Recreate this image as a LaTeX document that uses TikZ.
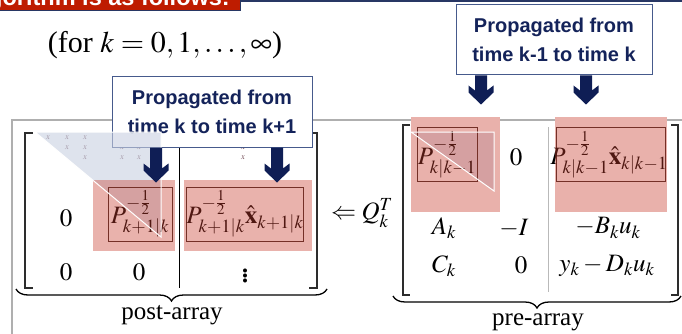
\documentclass[tikz,border=0pt]{standalone}
\usepackage{mathptmx}
\usepackage{fontspec}
\setmainfont{Liberation Serif}
\newfontfamily\headsans{Liberation Sans}
\usetikzlibrary{calc,decorations.pathreplacing}

\definecolor{bannerred}{RGB}{190,28,0}
\definecolor{bannerline}{RGB}{40,55,100}
\definecolor{framegray}{RGB}{175,175,175}
\definecolor{calloutline}{RGB}{70,90,140}
\definecolor{calloutink}{RGB}{20,35,90}
\definecolor{arrowink}{RGB}{15,30,85}
\definecolor{hlred}{RGB}{200,62,47}
\definecolor{triblue}{RGB}{200,208,225}
\definecolor{innerline}{RGB}{60,40,35}
\definecolor{xmark}{RGB}{110,70,80}
\definecolor{bracketink}{RGB}{45,45,45}
\definecolor{sepgray}{RGB}{185,185,185}

\tikzset{
  mtx/.style={font=\fontsize{25}{30}\selectfont, inner sep=0pt},
  callout/.style={draw=calloutline, line width=1pt, fill=white, minimum height=70pt,
    inner sep=0pt, align=center, text=calloutink,
    font=\headsans\bfseries\fontsize{20}{29}\selectfont},
  bracket/.style={draw=bracketink, line width=1.6pt},
  highlight/.style={fill=hlred, fill opacity=0.4},
  innerbox/.style={draw=innerline, line width=0.8pt},
  tinyx/.style={font=\fontsize{8.5}{9}\selectfont, text=xmark, inner sep=0pt},
  triline/.style={draw=white, line width=1pt},
  underbrace/.style={decorate, decoration={brace, mirror, amplitude=12pt},
    draw=black, line width=1.3pt},
}

% thick downward block arrow: #1 = top point, #2 = length
\newcommand\blockarrow[2]{%
  \fill[arrowink, shift={(#1)}] (-6,0) -- (6,0) -- (6,#2-14) -- (12.5,#2-19)
    -- (12.5,#2-12) -- (0,#2) -- (-12.5,#2-12) -- (-12.5,#2-19) -- (-6,#2-14) -- cycle;}

\begin{document}
\begin{tikzpicture}[x=1pt,y=-1pt]
\useasboundingbox (0,0) rectangle (682,334);

% slide title bar
\fill[bannerred, draw=bannerline, line width=1pt] (-2,-2) rectangle (240,11);
\node[anchor=base east, text=white, inner sep=0pt,
      font=\headsans\bfseries\fontsize{23.5}{25}\selectfont] (title) at (230,5.5)
      {Algorithm is as follows:};
\draw[bannerline, line width=2.4pt] (240,1) -- (682,1);

% iteration range
\node[font=\fontsize{30}{36}\selectfont, inner sep=0pt] (range) at (165,45)
  {(for $k=0,1,\ldots,\infty$)};

% content frame
\draw[framegray, line width=1.2pt] (682,120) -- (12,120) -- (12,334);

% post-array brackets and separator
\draw[bracket] (33,133) -- (25,133) -- (25,288) -- (33,288);
\draw[bracket] (309,133) -- (317,133) -- (317,288) -- (309,288);
\draw[black, line width=0.8pt] (179,133) -- (179,288);

% pre-array brackets and separator
\draw[bracket] (410,125) -- (403,125) -- (403,295) -- (410,295);
\draw[bracket] (671,125) -- (678,125) -- (678,295) -- (671,295);
\draw[sepgray, line width=1pt] (548,127) -- (548,292);

% braces and labels
\draw[underbrace] (16,289) -- (327,289);
\node[mtx] (postlbl) at (172,315) {post-array};
\draw[underbrace] (393,296) -- (681,296);
\node[mtx] (prelbl) at (538,322) {pre-array};

% upper-triangular pattern
\foreach \px/\py in {48/138,67/138,85/138,67/148,85/148,122/148,139/148,157/148,
                     85/158,122/158,139/158,243/148,243/158}
  \node[tinyx] (xm-\px-\py) at (\px,\py) {$x$};

% clear backgrounds of the pre-array highlights
\fill[white] (411,117) rectangle (500,212);
\fill[white] (555,117) rectangle (667,212);

% callouts
\node[callout, minimum width=200pt] (box1) at (212,112) {Propagated from\\time k to time k+1};
\node[callout, minimum width=196pt] (box2) at (554,40) {Propagated from\\time k-1 to time k};

% triangularised parts
\fill[triblue, fill opacity=0.6] (35,132) -- (161,132) -- (161,237) -- cycle;
\fill[triblue, fill opacity=0.6] (411,132) -- (494,132) -- (494,191) -- cycle;

% framed blocks
\draw[innerbox] (108,187) rectangle (172,241);
\draw[innerbox] (186,187) rectangle (303,241);
\draw[innerbox] (417,127) rectangle (477,181);
\draw[innerbox] (556,127) rectangle (665,181);

% post-array entries
\node[mtx] (p11) at (66,218) {$0$};
\node[mtx] (p12) at (140,214) {$P^{-\frac{1}{2}}_{k+1|k}$};
\node[mtx] (p13) at (245,214) {$P^{-\frac{1}{2}}_{k+1|k}\hat{\mathbf{x}}_{k+1|k}$};
\node[mtx] (p21) at (66,272) {$0$};
\node[mtx] (p22) at (139,272) {$0$};
\node[mtx, font=\fontsize{34}{36}\selectfont] (p23) at (245,273) {$\vdots$};

% rotation
\node[mtx] (qt) at (362,213) {$\Leftarrow Q_k^T$};

% pre-array entries
\node[mtx] (q11) at (447,155) {$P^{-\frac{1}{2}}_{k|k-1}$};
\node[mtx] (q12) at (516,157) {$0$};
\node[mtx] (q13) at (609,155) {$P^{-\frac{1}{2}}_{k|k-1}\hat{\mathbf{x}}_{k|k-1}$};
\node[mtx] (q21) at (444,228) {$A_k$};
\node[mtx] (q22) at (514,228) {$-I$};
\node[mtx] (q23) at (608,228) {$-B_k u_k$};
\node[mtx] (q31) at (444,266) {$C_k$};
\node[mtx] (q32) at (521,265) {$0$};
\node[mtx] (q33) at (607,266) {$y_k - D_k u_k$};

% highlights
\fill[highlight] (93,180) rectangle (175,251);
\fill[highlight] (184,180) rectangle (312,251);
\fill[highlight] (411,117) rectangle (500,212);
\fill[highlight] (555,117) rectangle (667,212);

% triangle outlines
\draw[triline] (35,132) -- (161,237) -- (161,132) -- cycle;
\draw[triline] (411,132) -- (494,132) -- (494,191) -- cycle;

% arrows from the callouts
\coordinate (a1) at ($(box1.south)+(-56,0)$);
\coordinate (a2) at ($(box1.south)+(65,0)$);
\coordinate (b1) at ($(box2.south)+(-73,0)$);
\coordinate (b2) at ($(box2.south)+(32,0)$);
\blockarrow{a1}{35}
\blockarrow{a2}{35}
\blockarrow{b1}{29}
\blockarrow{b2}{29}
\end{tikzpicture}
\end{document}
